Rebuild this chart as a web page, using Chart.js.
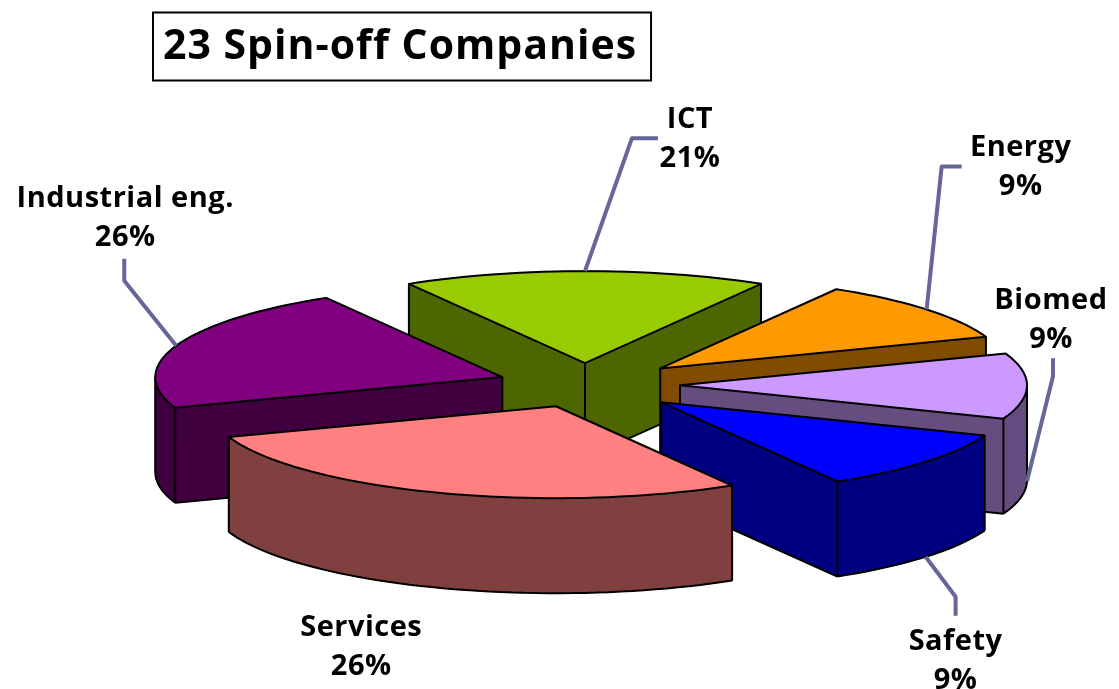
<!DOCTYPE html>
<html>
<head>
<meta charset="utf-8">
<title>23 Spin-off Companies</title>
<script src="https://cdn.jsdelivr.net/npm/chart.js@4"></script>
<style>
body {margin: 0; background: #fff;}
canvas {display: block;}
</style>
</head>
<body>
<canvas id="pie-chart" width="1119" height="689"></canvas>
<script>
const categories = ['ICT', 'Energy', 'Biomed', 'Safety', 'Services', 'Industrial eng.'];
const shares = [21, 9, 9, 9, 26, 26];
const sliceColors = ['#99cc00', '#ff9900', '#cc99ff', '#0000ff', '#ff8080', '#800080'];
const sideColors = ['#4d6600', '#804d00', '#664d80', '#000080', '#804040', '#400040'];
const explode = [83, 98, 95, 100, 85, 88];

// callout per slice: bend points relative to the rim, then label centre relative to the last one
const callouts = [
	{base: false, bends: [[47, -133], [73, -133]], label: [32, 1]},
	{base: false, bends: [[15, -143], [35, -143]], label: [59, 1]},
	{base: true, bends: [[26, -105], [26, -123]], label: [-2, -38]},
	{base: true, bends: [[30, 40], [30, 59]], label: [0, 45]},
	{base: false, bends: [], label: [-76, 155]},
	{base: false, bends: [[-52, -65], [-52, -87]], label: [1, -40]}
];

const TILT = 0.265;
const DEPTH = 95;
const LABEL_FONT = '700 29px "Open Sans"';

// 3D view: the back of the pie looks squeezed and the front stretched
const viewAngle = (deg) => {
	const r = deg * Math.PI / 180;
	return deg + 9.95 - 11.45 * Math.cos(r) - 8.29 * Math.sin(r) - 3.65 * Math.cos(2 * r) - 2.3 * Math.sin(2 * r);
};

const onPlane = (cx, cy, radius, deg) => {
	const r = deg * Math.PI / 180;
	return {x: cx + radius * Math.sin(r), y: cy - TILT * radius * Math.cos(r)};
};

const sliceShape = (arc) => {
	const props = arc.getProps(['x', 'y', 'startAngle', 'endAngle', 'outerRadius'], true);
	const from = viewAngle((props.startAngle + Math.PI / 2) * 180 / Math.PI);
	const to = viewAngle((props.endAngle + Math.PI / 2) * 180 / Math.PI);
	const mid = (from + to) / 2;
	const tip = onPlane(props.x, props.y, arc.options.offset, mid);
	const pts = [tip];
	const steps = Math.ceil((to - from) / 2);
	for (let i = 0; i <= steps; i++) {
		pts.push(onPlane(tip.x, tip.y, props.outerRadius, from + (to - from) * i / steps));
	}
	return {pts, tip, rim: onPlane(tip.x, tip.y, props.outerRadius, mid)};
};

const polygon = (ctx, pts, dy) => {
	ctx.beginPath();
	pts.forEach((p, i) => i ? ctx.lineTo(p.x, p.y + dy) : ctx.moveTo(p.x, p.y + dy));
	ctx.closePath();
};

const drawSlice = (ctx, shape, top, side) => {
	const {pts} = shape;
	const n = pts.length;
	const facing = (i) => pts[(i + 1) % n].x < pts[i].x;
	ctx.fillStyle = side;
	ctx.strokeStyle = side;
	ctx.lineWidth = 1;
	for (let i = 0; i < n; i++) {
		const a = pts[i], b = pts[(i + 1) % n];
		ctx.beginPath();
		ctx.moveTo(a.x, a.y);
		ctx.lineTo(b.x, b.y);
		ctx.lineTo(b.x, b.y + DEPTH);
		ctx.lineTo(a.x, a.y + DEPTH);
		ctx.closePath();
		ctx.fill();
		ctx.stroke();
	}
	ctx.strokeStyle = '#000';
	ctx.lineWidth = 2;
	ctx.beginPath();
	for (let i = 0; i < n; i++) {
		if (facing(i)) {
			const a = pts[i], b = pts[(i + 1) % n];
			ctx.moveTo(a.x, a.y + DEPTH);
			ctx.lineTo(b.x, b.y + DEPTH);
		}
	}
	// upright edges: outline changes side, or a corner between two walls
	for (let i = 0; i < n; i++) {
		const prev = (i - 1 + n) % n;
		const corner = i === 0 || i === 1 || i === n - 1;
		if (facing(prev) !== facing(i) || (corner && facing(prev) && facing(i))) {
			ctx.moveTo(pts[i].x, pts[i].y);
			ctx.lineTo(pts[i].x, pts[i].y + DEPTH);
		}
	}
	ctx.stroke();
	polygon(ctx, pts, 0);
	ctx.fillStyle = top;
	ctx.fill();
	ctx.stroke();
};

const pie3d = {
	id: 'pie3d',
	beforeDraw(chart) {
		chart.ctx.letterSpacing = '1px';
	},
	// the flat arcs are replaced by the extruded slices below
	beforeDatasetsDraw(chart) {
		const ctx = chart.ctx;
		const arcs = chart.getDatasetMeta(0).data;
		const shapes = arcs.map(sliceShape);
		ctx.save();
		ctx.lineJoin = 'round';
		shapes.map((s, i) => i).sort((a, b) => shapes[a].tip.y - shapes[b].tip.y).forEach((i) => {
			drawSlice(ctx, shapes[i], sliceColors[i], sideColors[i]);
		});
		ctx.font = LABEL_FONT;
		ctx.letterSpacing = '0.5px';
		ctx.textAlign = 'center';
		ctx.textBaseline = 'middle';
		shapes.forEach((s, i) => {
			const c = callouts[i];
			const start = {x: s.rim.x, y: s.rim.y + (c.base ? DEPTH : 0)};
			let end = start;
			if (c.bends.length) {
				ctx.beginPath();
				ctx.moveTo(start.x, start.y);
				c.bends.forEach((b) => {
					end = {x: start.x + b[0], y: start.y + b[1]};
					ctx.lineTo(end.x, end.y);
				});
				ctx.strokeStyle = '#666699';
				ctx.lineWidth = 4;
				ctx.stroke();
			}
			ctx.fillStyle = '#000';
			ctx.fillText(categories[i], end.x + c.label[0], end.y + c.label[1] - 19.5);
			ctx.fillText(shares[i] + '%', end.x + c.label[0], end.y + c.label[1] + 19.5);
		});
		ctx.restore();
		return false;
	},
	afterDraw(chart) {
		const ctx = chart.ctx;
		const t = chart.titleBlock;
		ctx.save();
		ctx.font = Chart.helpers.toFont(t.options.font).string;
		const w = ctx.measureText(t.options.text).width;
		ctx.strokeStyle = '#000';
		ctx.lineWidth = 2;
		ctx.strokeRect(t.left - 10, 12.5, w + 24, 68);
		ctx.restore();
	}
};

const config = {
	type: 'pie',
	data: {labels: categories, datasets: [{data: shares, backgroundColor: sliceColors, offset: explode, radius: 347, borderWidth: 0}]},
	options: {
		responsive: false,
		animation: false,
		rotation: -shares[0] * 1.8,
		layout: {padding: {left: 163, right: 112, top: 0, bottom: 0}},
		plugins: {
			legend: {display: false},
			tooltip: {enabled: false},
			title: {
				display: true,
				text: '23 Spin-off Companies',
				align: 'start',
				color: '#000',
				font: {family: '"Open Sans"', size: 41, weight: '700'},
				padding: {top: 23, bottom: 9}
			}
		}
	},
	plugins: [pie3d]
};

const myChart = new Chart(document.getElementById('pie-chart'), config);
</script>
</body>
</html>
